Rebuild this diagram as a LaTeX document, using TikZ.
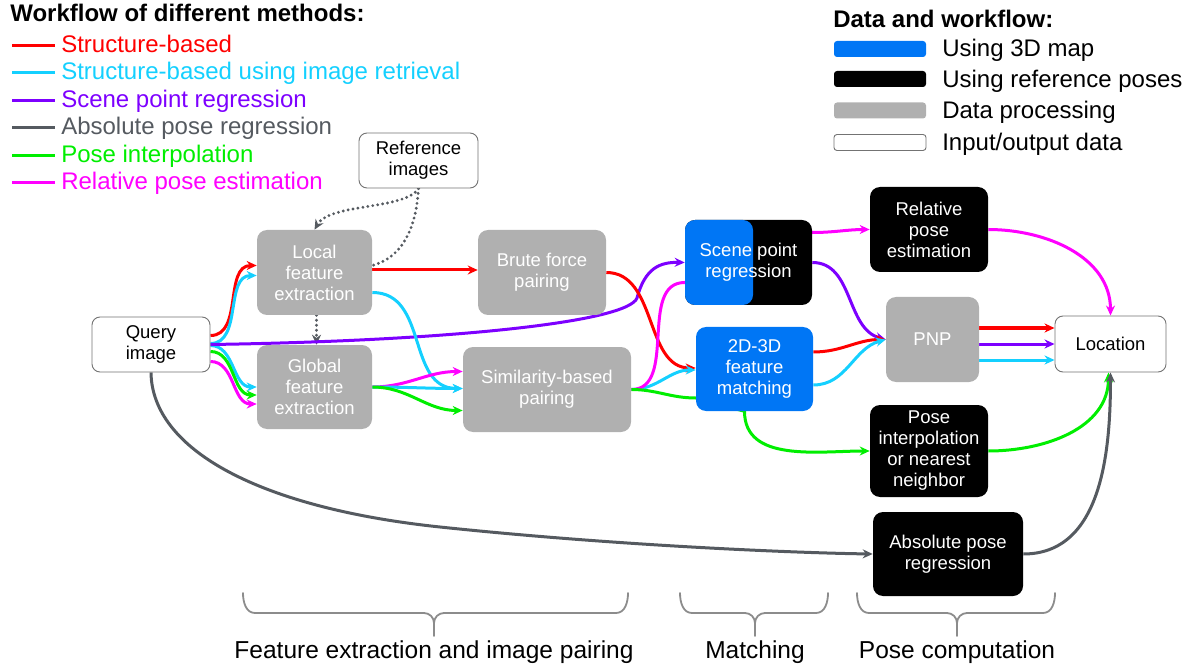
\documentclass[tikz,border=0pt]{standalone}
\usepackage{fontspec}
\setmainfont{Liberation Sans}
\usepackage{tikz}
\usetikzlibrary{backgrounds}
\usetikzlibrary{positioning}
\usetikzlibrary{arrows.meta}
\usetikzlibrary{calc}
\definecolor{cred}{RGB}{255,0,0}
\definecolor{ccyan}{RGB}{20,208,255}
\definecolor{cpurple}{RGB}{125,0,255}
\definecolor{cgray}{RGB}{85,90,96}
\definecolor{cgreen}{RGB}{0,238,0}
\definecolor{cmag}{RGB}{255,0,255}
\definecolor{mapblue}{RGB}{0,118,245}
\definecolor{procgray}{RGB}{176,176,176}

\begin{document}
\begin{tikzpicture}[
            x = 1pt, y = -1pt, % one unit is one pixel, y runs downwards
            > = {Stealth[length=10pt, width=9pt]}, % arrow head style
            font = \fontsize{18.5}{21}\selectfont,
            semithick % line style
        ]

        \tikzstyle{procbox}=[rounded corners=10pt, fill=procgray, text=white, align=center, inner sep=1pt]
        \tikzstyle{posebox}=[procbox, fill=black]
        \tikzstyle{mapbox}=[procbox, fill=mapblue]
        \tikzstyle{databox}=[rounded corners=8pt, draw=black!55, line width=0.9pt, fill=white, text=black, align=center]
        \tikzstyle{swatch}=[rounded corners=3pt, minimum width=92pt, minimum height=16pt, inner sep=0pt]
        \tikzstyle{flow}=[line width=3pt]
        \tikzstyle{dots}=[line width=3.2pt, line cap=round, dash pattern=on 0pt off 5pt, draw=cgray, color=cgray]
        \tikzstyle{brace}=[line width=1.8pt, draw=black!45, line cap=round]
        \tikzstyle{legendtext}=[anchor=base west, inner sep=0pt, font=\fontsize{24}{27}\selectfont]
        \tikzstyle{headtext}=[legendtext, font=\fontsize{24}{27}\selectfont\bfseries]

        \useasboundingbox (0,0) rectangle (1194,668);

        % legend: workflow of the methods
        \node[headtext] (title) at (10,21.5) {Workflow of different methods:};
        \node[legendtext, text=cred] (lsb) at (61,52.5) {Structure-based};
        \node[legendtext, text=ccyan] (lir) at (61,80) {Structure-based using image retrieval};
        \node[legendtext, text=cpurple] (lspr) at (61,107.5) {Scene point regression};
        \node[legendtext, text=cgray] (lapr) at (61,135) {Absolute pose regression};
        \node[legendtext, text=cgreen] (lpi) at (61,162.5) {Pose interpolation};
        \node[legendtext, text=cmag] (lrpe) at (61,189.5) {Relative pose estimation};

        \draw[flow, cred] ([xshift=-49pt, yshift=7pt]lsb.base west) -- ++(43,0);
        \draw[flow, ccyan] ([xshift=-49pt, yshift=7pt]lir.base west) -- ++(43,0);
        \draw[flow, cpurple] ([xshift=-49pt, yshift=7pt]lspr.base west) -- ++(43,0);
        \draw[flow, cgray] ([xshift=-49pt, yshift=7pt]lapr.base west) -- ++(43,0);
        \draw[flow, cgreen] ([xshift=-49pt, yshift=7pt]lpi.base west) -- ++(43,0);
        \draw[flow, cmag] ([xshift=-49pt, yshift=7pt]lrpe.base west) -- ++(43,0);

        % legend: data and workflow
        \node[headtext] (dtitle) at (833,28) {Data and workflow:};
        \node[swatch, fill=mapblue] (smap) at (880,49) {};
        \node[swatch, fill=black] (spose) at (880,79) {};
        \node[swatch, fill=procgray] (sproc) at (880,110.5) {};
        \node[swatch, draw=black!55, line width=0.9pt, fill=white] (sdata) at (880,142.5) {};
        \node[legendtext] (tmap) at (942,57) {Using 3D map};
        \node[legendtext] (tpose) at (942,87.5) {Using reference poses};
        \node[legendtext] (tproc) at (942,118.5) {Data processing};
        \node[legendtext] (tdata) at (942,150.5) {Input/output data};

        % input and reference data
        \node[databox, minimum width=119pt, minimum height=55pt] (Ref) at (418.5,160.5) {Reference\\images};
        \node[databox, minimum width=118pt, minimum height=55pt] (Q) at (151,344.5) {Query\\image};

        % feature extraction and pairing
        \node[procbox, minimum width=115pt, minimum height=85pt] (LF) at (314.5,272.5) {Local\\feature\\extraction};
        \node[procbox, minimum width=115pt, minimum height=84pt] (GF) at (314.5,387) {Global\\feature\\extraction};
        \node[procbox, minimum width=128pt, minimum height=85pt] (BF) at (542,272.5) {Brute force\\pairing};
        \node[procbox, minimum width=168pt, minimum height=85pt] (SIM) at (547,389.5) {Similarity-based\\pairing};

        % matching
        \node[posebox, minimum width=127pt, minimum height=85pt,
              path picture={\fill[mapblue, rounded corners=10pt]
                ([xshift=-12pt]path picture bounding box.south west) rectangle
                ([xshift=68pt]path picture bounding box.north west);}] (SP) at (748.5,262.5) {Scene point\\regression};
        \node[mapbox, minimum width=117pt, minimum height=84pt] (M) at (754.5,369) {2D-3D\\feature\\matching};

        % pose computation
        \node[posebox, minimum width=118pt, minimum height=85pt] (RP) at (929,229.5) {Relative\\pose\\estimation};
        \node[procbox, minimum width=93pt, minimum height=85pt] (PNP) at (932.5,339.5) {PNP};
        \node[posebox, minimum width=118pt, minimum height=92pt] (PI) at (929,451) {Pose\\interpolation\\or nearest\\neighbor};
        \node[posebox, minimum width=150pt, minimum height=84pt] (APR) at (948,554) {Absolute pose\\regression};
        \node[databox, minimum width=111pt, minimum height=56pt] (Loc) at (1110.5,344) {Location};

        \begin{scope}[on background layer]
        % reference images
        \draw[dots, ->] (Ref.south) .. controls (405,210) and (330,203) .. (LF.north);
        \draw[dots] (Ref.south) .. controls (416,232) and (400,258) .. ([yshift=7pt]LF.east);
        \draw[dots, ->] ([xshift=2pt]LF.south) -- ([xshift=2pt]GF.north);

        % from the query
        \path[flow, ->, cred] ([yshift=9pt]Q.east) edge[out=0, in=180] ([yshift=7pt]LF.west);
        \path[flow, ->, ccyan] ([yshift=1pt]Q.east) edge[out=0, in=180] ([yshift=-3pt]LF.west);
        \path[flow, ->, ccyan] ([yshift=-1pt]Q.east) edge[out=0, in=180] (GF.west);
        \path[flow, ->, cgreen] ([yshift=-7pt]Q.east) edge[out=0, in=180] ([yshift=-8pt]GF.west);
        \path[flow, ->, cmag] ([yshift=-17pt]Q.east) edge[out=0, in=180] ([yshift=-17pt]GF.west);
        \draw[flow, ->, cpurple] (Q.east) .. controls (450,341) and (628,322) .. (637,298)
              .. controls (645,268) and (660,262) .. (SP.west);
        \draw[flow, ->, cgray] (Q.south) .. controls (152,450) and (260,508) .. (440,527)
              .. controls (620,546) and (800,553) .. (APR.west);

        % feature extraction to pairing
        \draw[flow, ->, cred] ([yshift=2.5pt]LF.east) -- ([yshift=2.5pt]BF.west);
        \path[flow, ->, ccyan] ([yshift=-20pt]LF.east) edge[out=0, in=180, looseness=1.1] ([yshift=1pt]SIM.west);
        \path[flow, ->, cmag] (GF.east) edge[out=0, in=180] ([yshift=18pt]SIM.west);
        \path[flow, ->, ccyan] (GF.east) edge[out=0, in=180] ([yshift=1pt]SIM.west);
        \path[flow, ->, cgreen] (GF.east) edge[out=0, in=180] ([yshift=-21pt]SIM.west);

        % pairing to matching
        \path[flow, ->, cred] (BF.east) edge[out=0, in=180] ([yshift=1pt]M.west);
        \path[flow, ->, ccyan] (SIM.east) edge[out=0, in=180] ([yshift=-1pt]M.west);
        \draw[flow, ->, cmag] (SIM.east) to[out=0, in=180] ([yshift=-20pt]SP.west)
              -- ([yshift=30pt]SP.east) to[out=0, in=180] (RP.west);
        \draw[flow, ->, cgreen] (SIM.east) to[out=0, in=180] ([yshift=-29pt]M.west)
              -- ([xshift=-10pt]M.south) to[out=-90, in=180] (PI.west);

        % matching to pose computation
        \path[flow, ->, cpurple] (SP.east) edge[out=0, in=165] (PNP.west);
        \path[flow, ->, cred] ([yshift=17pt]M.east) edge[out=0, in=180] (PNP.west);
        \path[flow, ->, ccyan] ([yshift=-16pt]M.east) edge[out=0, in=195] (PNP.west);

        % to the location
        \draw[flow, ->, cred] ([yshift=16pt]Loc.west -| PNP.east) -- ([yshift=16pt]Loc.west);
        \draw[flow, ->, cpurple] (Loc.west -| PNP.east) -- (Loc.west);
        \draw[flow, ->, ccyan] ([yshift=-16pt]Loc.west -| PNP.east) -- ([yshift=-16pt]Loc.west);
        \path[flow, ->, cmag] (RP.east) edge[out=0, in=90] (Loc.north);
        \path[flow, ->, cgreen] (PI.east) edge[out=0, in=-90] ([xshift=-2pt]Loc.south);
        \path[flow, ->, cgray] (APR.east) edge[out=0, in=-90] (Loc.south);
        \end{scope}

        % stages
        \draw[brace] (243,593) to[out=-90, in=180] (255,613) -- (424,613) to[out=0, in=90] (434,623) -- (434,636);
        \draw[brace] (434,623) to[out=90, in=180] (444,613) -- (616,613) to[out=0, in=-90] (628,593);
        \draw[brace] (680,593) to[out=-90, in=180] (692,613) -- (745,613) to[out=0, in=90] (755,623) -- (755,636);
        \draw[brace] (755,623) to[out=90, in=180] (765,613) -- (816,613) to[out=0, in=-90] (828,593);
        \draw[brace] (857,593) to[out=-90, in=180] (869,613) -- (947,613) to[out=0, in=90] (957,623) -- (957,636);
        \draw[brace] (957,623) to[out=90, in=180] (967,613) -- (1043,613) to[out=0, in=-90] (1055,593);

        \node[font=\fontsize{24.5}{27}\selectfont, anchor=base] (sfe) at (434,658) {Feature extraction and image pairing};
        \node[font=\fontsize{24.5}{27}\selectfont, anchor=base] (smt) at (755,658) {Matching};
        \node[font=\fontsize{24.5}{27}\selectfont, anchor=base] (spc) at (957,658) {Pose computation};

\end{tikzpicture}
\end{document}
